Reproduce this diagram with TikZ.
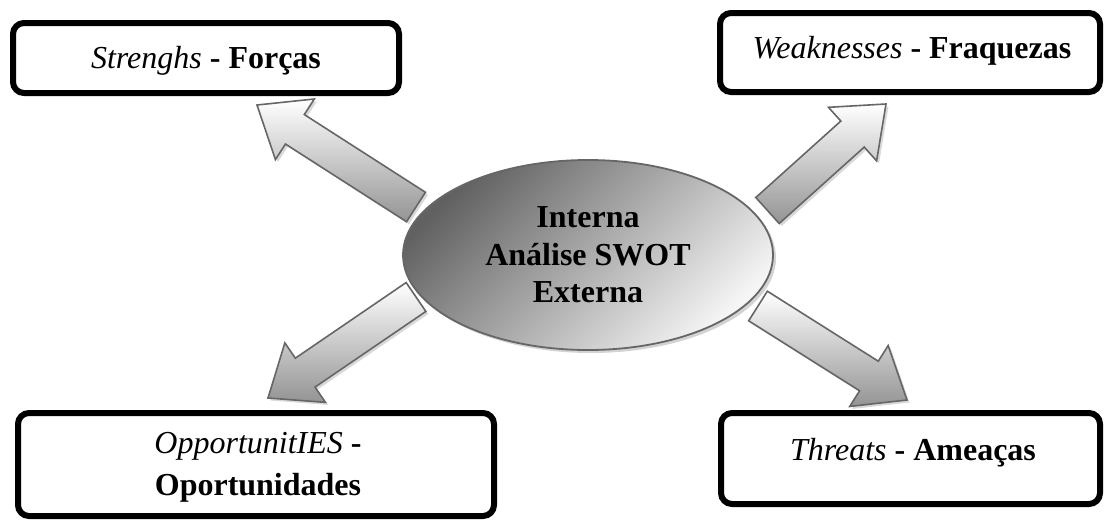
\documentclass[tikz,border=0pt]{standalone}
\usepackage{fontspec}
\setmainfont{Liberation Serif}
\usetikzlibrary{calc,shapes.geometric,shadows}
\tikzset{
  boxstyle/.style={draw=black, line width=6pt, rounded corners=11pt, fill=white,
    drop shadow={shadow xshift=2pt, shadow yshift=-2pt, opacity=0.35}},
  lbl/.style={inner sep=0pt, font=\fontsize{32pt}{42pt}\selectfont, align=center},
  arrowstyle/.style={draw=black!60, line width=1.6pt, line join=miter,
    top color=white, bottom color=black!42,
    drop shadow={shadow xshift=2.5pt, shadow yshift=-2.5pt, opacity=0.3}},
  swot/.style={ellipse, draw=black!60, line width=1.8pt, minimum width=370pt,
    minimum height=190pt, inner sep=0pt, top color=black!62, bottom color=black!4,
    shading angle=45, drop shadow={shadow xshift=3pt, shadow yshift=-3pt, opacity=0.35},
    font=\bfseries\fontsize{32pt}{37.5pt}\selectfont, align=center}
}
\newcommand\blockarrow[3]{%
  \coordinate (#3) at ($(#2)!45pt!(#1)$);
  \draw[arrowstyle] ($(#1)!17.5pt!90:(#2)$) -- ($(#3)!17.5pt!90:(#2)$)
    -- ($(#3)!36pt!90:(#2)$) -- (#2) -- ($(#3)!36pt!-90:(#2)$)
    -- ($(#3)!17.5pt!-90:(#2)$) -- ($(#1)!17.5pt!-90:(#2)$) -- cycle;}
\begin{document}
\begin{tikzpicture}[x=1pt,y=-1pt]
\useasboundingbox (0,0) rectangle (1105,520);
% block arrows
\coordinate (sT) at (416,207);   \coordinate (sH) at (257,105);
\coordinate (wT) at (767.5,210.5); \coordinate (wH) at (886,104);
\coordinate (oT) at (416,297);   \coordinate (oH) at (268,398);
\coordinate (tT) at (758,306);   \coordinate (tH) at (907,400);
\blockarrow{sT}{sH}{sM}
\blockarrow{wT}{wH}{wM}
\blockarrow{oT}{oH}{oM}
\blockarrow{tT}{tH}{tM}
% centre ellipse
\node[swot] (swot) at (588,255) {Interna\\Análise SWOT\\Externa};
% boxes
\node[boxstyle, minimum width=386pt, minimum height=70pt] (S) at (206,58) {};
\node[lbl, anchor=base] (St) at (206,68) {\textit{Strenghs} \textbf{- Forças}};
\node[boxstyle, minimum width=380pt, minimum height=79pt] (W) at (910,52.5) {};
\node[lbl, anchor=base] (Wt) at (912,58) {\textit{Weaknesses} \textbf{- Fraquezas}};
\node[boxstyle, minimum width=476pt, minimum height=103pt] (O) at (256,464.5) {};
\node[lbl] (Ot) at (258,467) {\textit{OpportunitIES} \textbf{-}\\\textbf{Oportunidades}};
\node[boxstyle, minimum width=379pt, minimum height=91pt] (T) at (910.5,458.5) {};
\node[lbl, anchor=base] (Tt) at (913,460) {\textit{Threats} \textbf{- Ameaças}};
\end{tikzpicture}
\end{document}
